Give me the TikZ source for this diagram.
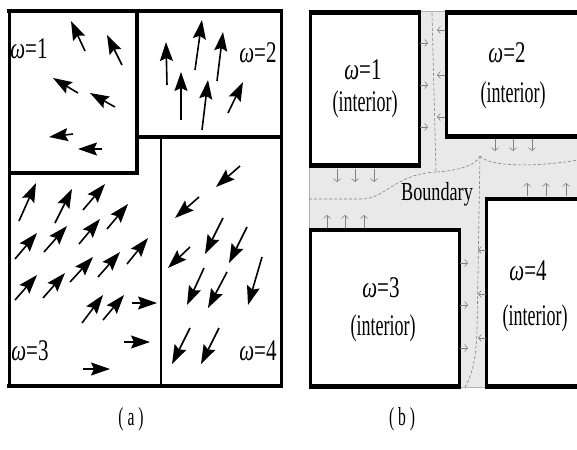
\documentclass[tikz,border=0pt]{standalone}
\usepackage{fontspec}
\setmainfont{Liberation Serif}[FakeStretch=0.7]
\newfontfamily\tallfont{Liberation Serif}[FakeStretch=0.6]
\usetikzlibrary{arrows.meta}

\begin{document}
\begin{tikzpicture}[x=1pt, y=-1pt,
    field/.style={-{Stealth[length=19pt,width=13pt,inset=3pt]}, line width=1.6pt},
    flux/.style={-{Straight Barb[length=3pt,width=7pt]}, gray, line width=0.6pt},
    sep/.style={gray, line width=0.6pt, dash pattern=on 3pt off 2pt},
    lbl/.style={font=\fontsize{30}{34}\selectfont, inner sep=0pt, anchor=base},
    intlbl/.style={font=\tallfont\fontsize{30}{34}\selectfont, inner sep=0pt, anchor=base},
    bndlbl/.style={font=\fontsize{26}{30}\selectfont, inner sep=0pt, anchor=base},
    sublbl/.style={font=\tallfont\fontsize{26}{30}\selectfont, inner sep=0pt, anchor=base}]

  \clip (0,0) rectangle (577,449);
  \fill[white] (0,0) rectangle (577,449);

  % (a) regions
  \draw[line width=3pt] (9,11) rectangle (281,386);
  \draw[line width=4.5pt] (7,11) -- (283,11);
  \draw[line width=4.5pt] (7,386) -- (283,386);
  \draw[line width=4pt] (9,173) -- (137,173) -- (137,11);
  \draw[line width=4pt] (137,137) -- (281,137);
  \draw[line width=2.5pt] (161,137) -- (161,386);

  % (a) field, region 1
  \draw[field] (85,51) -- (71,21);
  \draw[field] (122,65) -- (107,35);
  \draw[field] (78,93) -- (53,78);
  \draw[field] (115,107) -- (90,93);
  \draw[field] (73,134) -- (49,137);
  \draw[field] (102,149) -- (78,149);

  % (a) field, region 2
  \draw[field] (167,85) -- (166,42);
  \draw[field] (195,70) -- (202,20);
  \draw[field] (217,81) -- (223,32);
  \draw[field] (181,120) -- (181,72);
  \draw[field] (202,130) -- (208,80);
  \draw[field] (228,113) -- (243,82);

  % (a) field, region 3
  \draw[field] (19,221) -- (36,183);
  \draw[field] (55,223) -- (72,189);
  \draw[field] (83,210) -- (105,184);
  \draw[field] (15,259) -- (37,233);
  \draw[field] (44,252) -- (67,226);
  \draw[field] (79,244) -- (100,219);
  \draw[field] (107,229) -- (128,204);
  \draw[field] (15,300) -- (37,275);
  \draw[field] (43,298) -- (65,273);
  \draw[field] (70,282) -- (93,257);
  \draw[field] (98,277) -- (120,252);
  \draw[field] (127,264) -- (148,238);
  \draw[field] (82,323) -- (103,295);
  \draw[field] (103,320) -- (124,295);
  \draw[field] (132,303) -- (157,303);
  \draw[field] (124,342) -- (150,342);
  \draw[field] (83,369) -- (110,369);

  % (a) field, region 4
  \draw[field] (240,166) -- (216,187);
  \draw[field] (199,197) -- (175,218);
  \draw[field] (223,218) -- (205,254);
  \draw[field] (247,227) -- (229,263);
  \draw[field] (190,247) -- (168,268);
  \draw[field] (204,268) -- (187,305);
  \draw[field] (227,272) -- (208,308);
  \draw[field] (262,257) -- (248,305);
  \draw[field] (190,328) -- (172,364);
  \draw[field] (219,328) -- (201,364);

  % (a) labels
  \node[lbl] (wa1) at (29,59) {{\itshape ω}=1};
  \node[lbl] (wa2) at (258,63) {{\itshape ω}=2};
  \node[lbl] (wa3) at (30,360) {{\itshape ω}=3};
  \node[lbl] (wa4) at (258,360) {{\itshape ω}=4};

  % (b) boundary band
  \fill[gray!17] (309,11) rectangle (590,387);
  \draw[gray!60, line width=0.6pt] (309,11) rectangle (590,387);

  % (b) interiors
  \draw[fill=white, line width=3pt] (310,12.5) rectangle (419,165.5);
  \draw[fill=white, line width=3pt] (446,12.5) rectangle (590,136.5);
  \draw[fill=white, line width=3pt] (310,230) rectangle (459,386.5);
  \draw[fill=white, line width=3pt] (486,198.5) rectangle (590,386.5);
  \draw[line width=5pt] (308.5,12.5) -- (420.5,12.5);
  \draw[line width=5pt] (308.5,165.5) -- (420.5,165.5);
  \draw[line width=5pt] (444.5,12.5) -- (590,12.5);
  \draw[line width=5pt] (444.5,136.5) -- (590,136.5);
  \draw[line width=4pt] (308.5,230) -- (460.5,230);
  \draw[line width=5pt] (308.5,386.5) -- (460.5,386.5);
  \draw[line width=4pt] (484.5,198.5) -- (590,198.5);
  \draw[line width=5pt] (484.5,386.5) -- (590,386.5);

  % (b) dashed split of the boundary
  \draw[sep] (432,13) -- (436,172) .. controls (455,171) and (476,166) .. (480,156);
  \draw[sep] (309,199) -- (362,199) .. controls (385,199) and (395,174) .. (436,172);
  \draw[sep] (480,156) .. controls (488,166) and (530,168) .. (578,160);
  \draw[sep] (480,156) -- (477,330) .. controls (476,360) and (472,375) .. (465,387);

  % (b) flow across the boundary
  \draw[flux] (420,43) -- (428,43);
  \draw[flux] (420,85) -- (428,85);
  \draw[flux] (420,127) -- (428,127);
  \draw[flux] (445,30) -- (437,30);
  \draw[flux] (445,75) -- (437,75);
  \draw[flux] (445,117) -- (437,117);
  \draw[flux] (495,139) -- (495,151);
  \draw[flux] (513,139) -- (513,151);
  \draw[flux] (532,139) -- (532,151);
  \draw[flux] (337,169) -- (337,182);
  \draw[flux] (355,169) -- (355,182);
  \draw[flux] (374,169) -- (374,182);
  \draw[flux] (327,228) -- (327,215);
  \draw[flux] (345,228) -- (345,215);
  \draw[flux] (364,228) -- (364,215);
  \draw[flux] (527,196) -- (527,183);
  \draw[flux] (546,196) -- (546,183);
  \draw[flux] (566,196) -- (566,183);
  \draw[flux] (460,263) -- (468,263);
  \draw[flux] (460,305) -- (468,305);
  \draw[flux] (460,348) -- (468,348);
  \draw[flux] (486,250) -- (478,250);
  \draw[flux] (486,294) -- (478,294);
  \draw[flux] (486,338) -- (478,338);

  % (b) labels
  \node[lbl] (wb1) at (363,80) {{\itshape ω}=1};
  \node[intlbl] (ib1) at (365,112) {(interior)};
  \node[lbl] (wb2) at (507,63) {{\itshape ω}=2};
  \node[intlbl] (ib2) at (513,103) {(interior)};
  \node[lbl] (wb3) at (381,297) {{\itshape ω}=3};
  \node[intlbl] (ib3) at (383,335) {(interior)};
  \node[lbl] (wb4) at (528,280) {{\itshape ω}=4};
  \node[intlbl] (ib4) at (535,325) {(interior)};
  \node[bndlbl] (bnd) at (437,200) {Boundary};

  % captions
  \node[sublbl] (capa) at (131,425) {( a )};
  \node[sublbl] (capb) at (402,425) {( b )};
\end{tikzpicture}
\end{document}
